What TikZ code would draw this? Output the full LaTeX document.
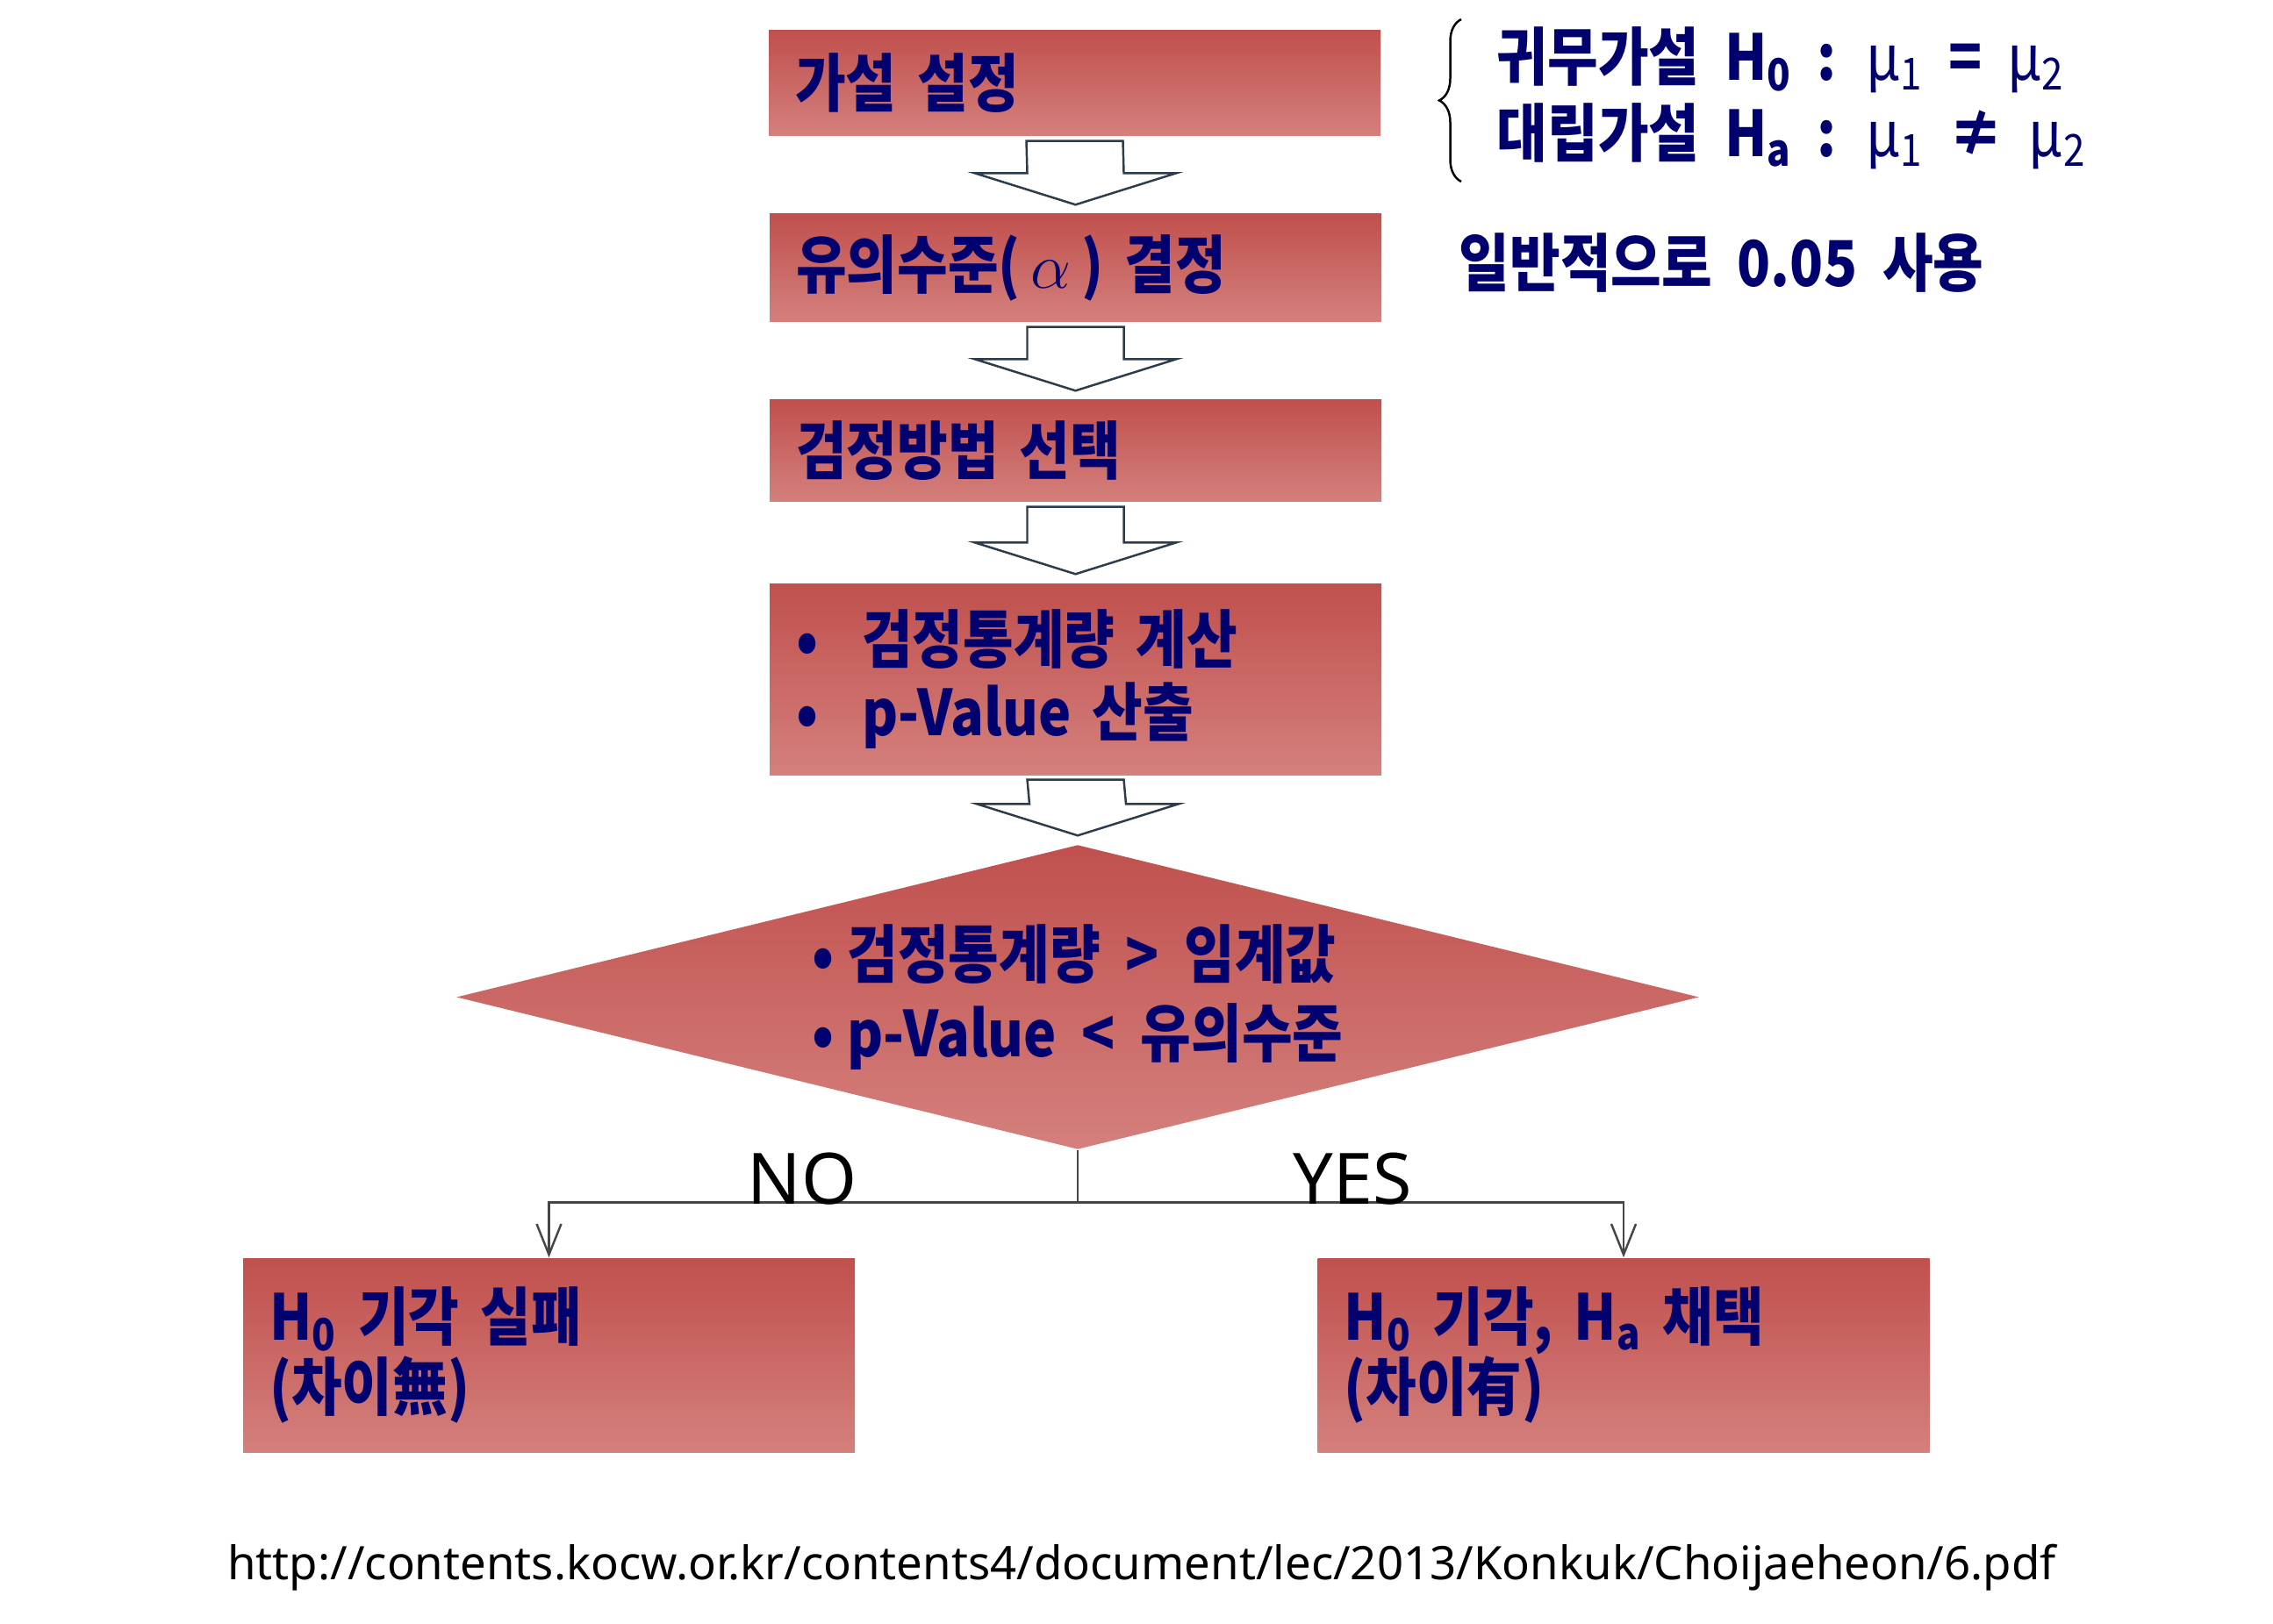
\documentclass[tikz,border=0pt]{standalone}
\usepackage{fontspec}
\usetikzlibrary{shapes.geometric,arrows.meta,calc,decorations.pathreplacing}

\newfontfamily\kr[FakeStretch=0.87,WordSpace=2.0]{Noto Sans CJK KR}
\newfontfamily\urlfont{Noto Sans}

\definecolor{boxtop}{RGB}{192,80,77}
\definecolor{boxbot}{RGB}{212,128,125}
\definecolor{navytext}{RGB}{0,0,110}
\definecolor{arrowline}{RGB}{45,60,75}
\definecolor{linegray}{RGB}{70,70,70}

\newcommand{\sbs}[1]{\textsubscript{#1}}

\tikzset{
  stepbox/.style={rectangle, top color=boxtop, bottom color=boxbot, draw=none,
    inner xsep=0.3cm, inner ysep=0pt, text width=6.37cm, align=left,
    text=navytext, font=\kr\bfseries\fontsize{20.5}{23.6}\selectfont},
  decision/.style={diamond, aspect=4.08, inner sep=0pt, top color=boxtop,
    bottom color=boxbot, draw=none, align=left, text=navytext,
    font=\kr\bfseries\fontsize{20.5}{25.6}\selectfont},
  blockarrow/.style={draw=arrowline, fill=white, line width=0.7pt, line join=miter},
  link/.style={draw=linegray, line width=0.7pt},
  note/.style={anchor=west, inner sep=0pt, text=navytext,
    font=\kr\bfseries\fontsize{20.5}{24}\selectfont},
  branch/.style={anchor=base, inner sep=0pt, font=\urlfont\fontsize{23}{26}\selectfont}
}

\begin{document}
\begin{tikzpicture}
  \useasboundingbox (0,0) rectangle (25.9,-18.51);

  % steps
  \node[stepbox, minimum height=1.20cm] (hyp) at (12.245,-0.95) {가설 설정};
  \node[stepbox, minimum height=1.23cm] (alpha) at (12.255,-3.055) {유의수준(\,$\alpha$\,) 결정};
  \node[stepbox, minimum height=1.16cm] (method) at (12.255,-5.14) {검정방법 선택};
  \node[stepbox, minimum height=2.18cm] (calc) at (12.255,-7.74)
    {•\hspace{0.5cm}검정통계량 계산\\•\hspace{0.5cm}p-Value 산출};

  % decision
  \node[decision, minimum width=14.16cm, minimum height=3.47cm] (test) at (12.28,-11.365)
    {•\hspace{0.15cm}검정통계량 > 임계값\\•\hspace{0.15cm}p-Value < 유의수준};

  % results
  \node[stepbox, minimum height=2.21cm, font=\kr\bfseries\fontsize{20.5}{22.8}\selectfont]
    (keep) at (6.255,-15.445) {H\sbs{0} 기각 실패\\(차이無)};
  \node[stepbox, minimum height=2.21cm, font=\kr\bfseries\fontsize{20.5}{22.8}\selectfont]
    (reject) at (18.50,-15.445) {H\sbs{0} 기각, H\sbs{a} 채택\\(차이有)};

  % hollow arrows
  \foreach \a/\b in {hyp/alpha, alpha/method, method/calc, calc/test}
    \draw[blockarrow] ($(\a.south)+(-0.55,-0.05)$) -- ($(\a.south)+(0.55,-0.05)$)
      -- ($(\b.north)+(0.55,0.46)$) -- ($(\b.north)+(1.15,0.46)$)
      -- ($(\b.north)+(0,0.10)$) -- ($(\b.north)+(-1.15,0.46)$)
      -- ($(\b.north)+(-0.55,0.46)$) -- cycle;

  % branches
  \draw[link] (test.south) -- ++(0,-0.6) coordinate (split);
  \draw[link,-{Straight Barb[length=0.35cm,width=0.28cm]}] (split) -| (keep.north);
  \draw[link,-{Straight Barb[length=0.35cm,width=0.28cm]}] (split) -| (reject.north);
  \node[branch] (no) at (9.14,-13.72) {NO};
  \node[branch] (yes) at (15.41,-13.72) {YES};

  % notes
  \draw[line width=0.7pt, decorate, decoration={brace, amplitude=0.25cm}]
    (16.65,-2.07) -- (16.65,-0.22);
  \node[note] (null) at (17.05,-0.68) {귀무가설 H\sbs{0} : {\mdseries μ\sbs{1}} = {\mdseries μ\sbs{2}}};
  \node[note] (alt) at (17.05,-1.55) {대립가설 H\sbs{a} : {\mdseries μ\sbs{1}} ≠ {\mdseries μ\sbs{2}}};
  \node[note] (usual) at (16.62,-3.0) {일반적으로 0.05 사용};

  \node[font=\urlfont\fontsize{15}{17}\selectfont] (src) at (13.01,-17.87)
    {http://contents.kocw.or.kr/contents4/document/lec/2013/Konkuk/Choijaeheon/6.pdf};
\end{tikzpicture}
\end{document}
